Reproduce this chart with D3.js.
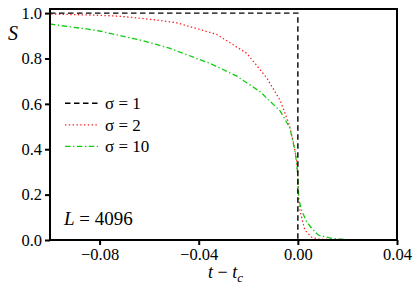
<!DOCTYPE html>
<html>
<head>
<meta charset="utf-8">
<script src="https://cdn.jsdelivr.net/npm/d3@7"></script>
<style>
  body { margin: 0; background: #fff; }
</style>
</head>
<body>
<div id="chart"></div>
<script>
// data
var sigma1T = [-0.1, 0.0, 0.0, 0.04];
var sigma1S = [1.0, 1.0, 0.0, 0.0];

var sigma2T = [-0.0995, -0.0825, -0.0731, -0.065, -0.0569, -0.0488, -0.0327, -0.0205, -0.0124, -0.0071, -0.0037, -0.0017, -0.0005, 0.0, 0.0003, 0.0008, 0.0028, 0.0055, 0.008, 0.015, 0.04];
var sigma2S = [0.996, 0.991, 0.987, 0.979, 0.969, 0.957, 0.906, 0.822, 0.712, 0.614, 0.515, 0.427, 0.352, 0.28, 0.18, 0.132, 0.044, 0.013, 0.004, 0.001, 0.0];

var sigma10T = [-0.1, -0.0973, -0.0852, -0.08, -0.0686, -0.0632, -0.0571, -0.0515, -0.0354, -0.0246, -0.0152, -0.0071, -0.0032, -0.0012, -0.0003, 0.0, 0.0004, 0.0015, 0.0035, 0.0055, 0.0082, 0.0136, 0.02, 0.04];
var sigma10S = [0.952, 0.947, 0.93, 0.921, 0.893, 0.88, 0.862, 0.844, 0.778, 0.722, 0.653, 0.568, 0.493, 0.396, 0.323, 0.27, 0.18, 0.132, 0.081, 0.053, 0.022, 0.007, 0.002, 0.0];

var xTicks = [-0.08, -0.04, 0.00, 0.04];
var yTicks = [0.0, 0.2, 0.4, 0.6, 0.8, 1.0];
var legendLabels = ["\u03c3 = 1", "\u03c3 = 2", "\u03c3 = 10"];

var serif = "'Liberation Serif', 'Times New Roman', 'DejaVu Serif', serif";

var W = 415, H = 291;
var margin = {top: 9, right: 18, bottom: 51, left: 50},
    width = W - margin.left - margin.right,
    height = H - margin.top - margin.bottom;

var svg = d3.select("#chart").append("svg")
  .attr("width", W).attr("height", H)
  .style("font-family", serif)
  .append("g")
    .attr("transform", "translate(" + margin.left + "," + margin.top + ")");

var x = d3.scaleLinear().domain([-0.1, 0.04]).range([0, width]);
var y = d3.scaleLinear().domain([0, 1.018]).range([height, 0]);

svg.append("clipPath").attr("id", "clip")
  .append("rect").attr("x", 0).attr("y", -1).attr("width", width).attr("height", height + 2);

var line = d3.line().x(function(d){ return x(d[0]); }).y(function(d){ return y(d[1]); });

function zip(a, b){ return a.map(function(v, i){ return [v, b[i]]; }); }

var series = [
  {pts: zip(sigma1T, sigma1S), color: "#000", dash: "5.5,3.5", w: 1.4},
  {pts: zip(sigma2T, sigma2S), color: "#ff2020", dash: "1.4,2.4", w: 1.3},
  {pts: zip(sigma10T, sigma10S), color: "#10cc10", dash: "5.5,2.5,1.4,2.5", w: 1.3}
];

// red and green first, black dashed on top
[series[1], series[2], series[0]].forEach(function(s){
  svg.append("path")
    .datum(s.pts)
    .attr("clip-path", "url(#clip)")
    .attr("fill", "none")
    .attr("stroke", s.color)
    .attr("stroke-width", s.w)
    .attr("stroke-dasharray", s.dash)
    .attr("d", line);
});

// frame
svg.append("rect")
  .attr("x", 0).attr("y", 0).attr("width", width).attr("height", height)
  .attr("fill", "none").attr("stroke", "#000").attr("stroke-width", 2);

// x axis
var xAxis = svg.append("g")
  .attr("transform", "translate(0," + height + ")")
  .call(d3.axisBottom(x).tickValues(xTicks).tickSize(5).tickPadding(3)
    .tickFormat(function(d){ return d3.format(".2f")(d).replace("-", "\u2212"); }));
xAxis.attr("font-family", null).attr("font-size", null);
xAxis.select(".domain").remove();
xAxis.selectAll("line").attr("stroke-width", 2);
xAxis.selectAll("text").style("font-family", serif).style("font-size", "16.5px");

// y axis
var yAxis = svg.append("g")
  .call(d3.axisLeft(y).tickValues(yTicks).tickSize(5).tickPadding(3).tickFormat(d3.format(".1f")));
yAxis.attr("font-family", null).attr("font-size", null);
yAxis.select(".domain").remove();
yAxis.selectAll("line").attr("stroke-width", 2);
yAxis.selectAll("text").style("font-family", serif).style("font-size", "16.5px");

// axis labels
svg.append("text")
  .attr("x", -42).attr("y", 31)
  .style("font-size", "20px").style("font-style", "italic")
  .text("S");

var xl = svg.append("text")
  .attr("x", width / 2 + 2).attr("y", height + 38)
  .attr("text-anchor", "middle")
  .style("font-size", "18px");
xl.append("tspan").style("font-style", "italic").text("t");
xl.append("tspan").text(" \u2212 ");
xl.append("tspan").style("font-style", "italic").text("t");
xl.append("tspan").style("font-style", "italic").style("font-size", "13px").attr("dy", 4).text("c");

// legend
var leg = svg.append("g").attr("transform", "translate(15, 94.3)");
series.forEach(function(s, i){
  var row = leg.append("g").attr("transform", "translate(0," + (i * 21.5) + ")");
  row.append("line")
    .attr("x1", 0).attr("x2", 33).attr("y1", 0).attr("y2", 0)
    .attr("stroke", s.color).attr("stroke-width", s.w)
    .attr("stroke-dasharray", s.dash);
  row.append("text")
    .attr("x", 40).attr("y", 6)
    .style("font-size", "17px")
    .text(legendLabels[i]);
});

// annotation
var ann = svg.append("text")
  .attr("x", 14).attr("y", 216)
  .style("font-size", "19px");
ann.append("tspan").style("font-style", "italic").text("L");
ann.append("tspan").text(" = 4096");
</script>
</body>
</html>
